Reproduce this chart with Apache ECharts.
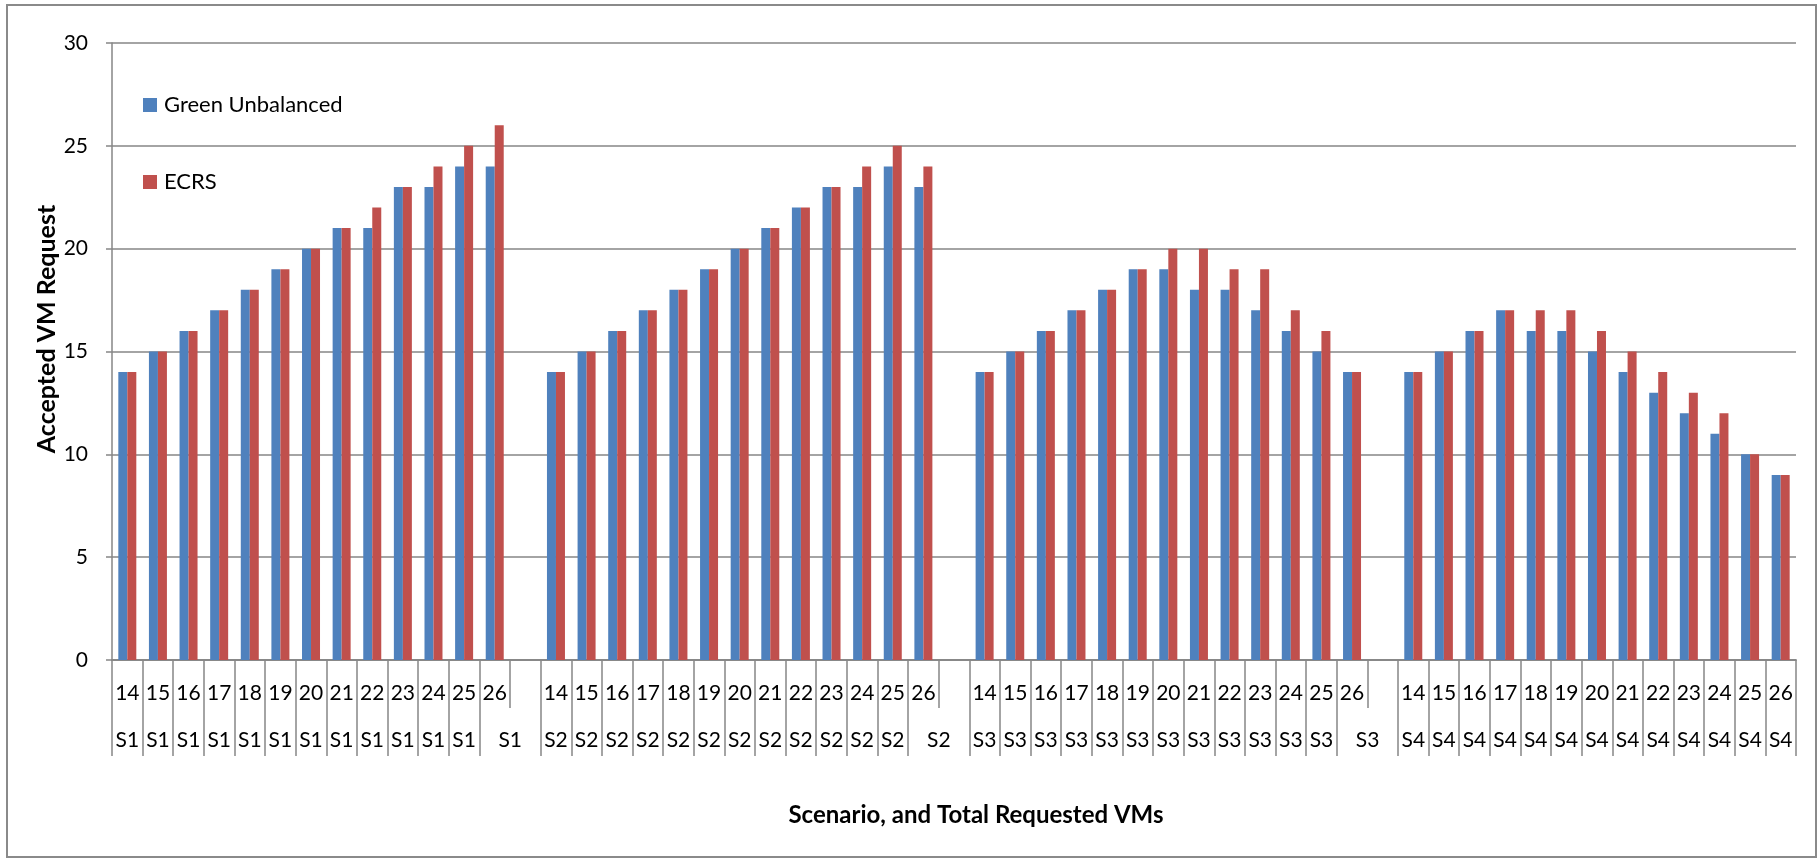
<!DOCTYPE html>
<html>
<head>
<meta charset="utf-8">
<script src="https://cdn.jsdelivr.net/npm/echarts@6/dist/echarts.min.js"></script>
<style>
  html, body { margin: 0; padding: 0; background: #ffffff; }
  #chart { width: 1819px; height: 859px; }
</style>
</head>
<body>
<div id="chart"></div>
<script>
// Total requested VMs per run (first row of the category axis)
const requestedVMs = ['14', '15', '16', '17', '18', '19', '20', '21', '22', '23', '24', '25', '26'];
// Scenario names (second row of the category axis)
const scenarios = ['S1', 'S2', 'S3', 'S4'];

// Accepted VM requests, Green Unbalanced
const greenS1 = [14, 15, 16, 17, 18, 19, 20, 21, 21, 23, 23, 24, 24];
const greenS2 = [14, 15, 16, 17, 18, 19, 20, 21, 22, 23, 23, 24, 23];
const greenS3 = [14, 15, 16, 17, 18, 19, 19, 18, 18, 17, 16, 15, 14];
const greenS4 = [14, 15, 16, 17, 16, 16, 15, 14, 13, 12, 11, 10, 9];

// Accepted VM requests, ECRS
const ecrsS1 = [14, 15, 16, 17, 18, 19, 20, 21, 22, 23, 24, 25, 26];
const ecrsS2 = [14, 15, 16, 17, 18, 19, 20, 21, 22, 23, 24, 25, 24];
const ecrsS3 = [14, 15, 16, 17, 18, 19, 20, 20, 19, 19, 17, 16, 14];
const ecrsS4 = [14, 15, 16, 17, 17, 17, 16, 15, 14, 13, 12, 10, 9];

// Y axis ticks
const yMin = 0, yMax = 30, yStep = 5;

const greenByScenario = [greenS1, greenS2, greenS3, greenS4];
const ecrsByScenario = [ecrsS1, ecrsS2, ecrsS3, ecrsS4];

// Flatten scenarios into one category axis, with an empty slot between scenarios
const categoryKeys = [];
const numberLabels = [];
const scenarioLabels = [];
const shiftedLabel = [];
const gapIndices = [];
const greenData = [];
const ecrsData = [];
scenarios.forEach((s, k) => {
  requestedVMs.forEach((r, j) => {
    categoryKeys.push(s + '|' + r);
    numberLabels.push(r);
    scenarioLabels.push(s);
    shiftedLabel.push(k < scenarios.length - 1 && j === requestedVMs.length - 1);
    greenData.push(greenByScenario[k][j]);
    ecrsData.push(ecrsByScenario[k][j]);
  });
  if (k < scenarios.length - 1) {
    gapIndices.push(categoryKeys.length);
    categoryKeys.push(s + '|gap');
    numberLabels.push('');
    scenarioLabels.push('');
    shiftedLabel.push(false);
    greenData.push(null);
    ecrsData.push(null);
  }
});

const FONT = 'Lato';
const GRID_COLOR = '#868686';
const chart = echarts.init(document.getElementById('chart'), null, { renderer: 'canvas' });

chart.setOption({
  animation: false,
  backgroundColor: '#ffffff',
  textStyle: { fontFamily: FONT, color: '#000000' },
  grid: { left: 112, right: 23, top: 43, bottom: 199, containLabel: false },
  legend: {
    orient: 'vertical',
    left: 143,
    top: 93,
    padding: 0,
    itemWidth: 14,
    itemHeight: 14,
    itemGap: 53,
    icon: 'rect',
    textStyle: { fontFamily: FONT, fontSize: 22, lineHeight: 24, color: '#000000', padding: [0, 0, 0, 2] },
    data: ['Green Unbalanced', 'ECRS']
  },
  xAxis: [
    {
      type: 'category',
      position: 'bottom',
      data: categoryKeys,
      boundaryGap: true,
      axisLine: { show: true, lineStyle: { color: GRID_COLOR, width: 1.5 } },
      axisTick: { show: true, interval: 0, length: 48, lineStyle: { color: GRID_COLOR, width: 1.5 } },
      axisLabel: {
        interval: 0,
        margin: 22,
        fontFamily: FONT,
        fontSize: 21,
        lineHeight: 22,
        color: '#000000',
        formatter: (v, i) => numberLabels[i]
      },
      splitLine: { show: false }
    },
    {
      type: 'category',
      position: 'bottom',
      data: categoryKeys,
      boundaryGap: true,
      axisLine: { show: true, lineStyle: { color: GRID_COLOR, width: 1.5 } },
      axisTick: {
        show: true,
        interval: (i) => gapIndices.indexOf(i) < 0,
        length: 96,
        lineStyle: { color: GRID_COLOR, width: 1.5 }
      },
      axisLabel: {
        interval: 0,
        margin: 69,
        fontFamily: FONT,
        fontSize: 21,
        lineHeight: 22,
        color: '#000000',
        formatter: (v, i) => shiftedLabel[i] ? '{shift|' + scenarioLabels[i] + '}' : scenarioLabels[i],
        rich: {
          shift: { fontFamily: FONT, fontSize: 21, lineHeight: 22, color: '#000000', padding: [0, 0, 0, 31] }
        }
      },
      splitLine: { show: false }
    }
  ],
  yAxis: {
    type: 'value',
    min: yMin,
    max: yMax,
    interval: yStep,
    axisLine: { show: true, lineStyle: { color: GRID_COLOR, width: 1.5 } },
    axisTick: { show: true, length: 6, lineStyle: { color: GRID_COLOR, width: 1.5 } },
    axisLabel: { margin: 24, fontFamily: FONT, fontSize: 21, color: '#000000' },
    splitLine: { show: true, lineStyle: { color: GRID_COLOR, width: 1.5 } }
  },
  series: [
    {
      name: 'Green Unbalanced',
      type: 'bar',
      xAxisIndex: 0,
      data: greenData,
      barWidth: 9,
      barGap: '0%',
      itemStyle: { color: '#4f81bd' }
    },
    {
      name: 'ECRS',
      type: 'bar',
      xAxisIndex: 0,
      data: ecrsData,
      barWidth: 9,
      barGap: '0%',
      itemStyle: { color: '#c0504d' }
    }
  ],
  graphic: [
    {
      type: 'rect',
      silent: true,
      shape: { x: 7, y: 5, width: 1809, height: 852 },
      style: { fill: 'none', stroke: '#8a8a8a', lineWidth: 2 }
    },
    {
      type: 'text',
      silent: true,
      x: 47,
      y: 329,
      rotation: Math.PI / 2,
      style: {
        text: 'Accepted VM Request',
        fontFamily: FONT,
        fontSize: 25,
        fontWeight: 'bold',
        fill: '#000000',
        align: 'center',
        verticalAlign: 'middle'
      }
    },
    {
      type: 'text',
      silent: true,
      x: 976,
      y: 815,
      style: {
        text: 'Scenario, and Total Requested VMs',
        fontFamily: FONT,
        fontSize: 24,
        fontWeight: 'bold',
        fill: '#000000',
        align: 'center',
        verticalAlign: 'middle'
      }
    }
  ]
});
</script>
</body>
</html>
